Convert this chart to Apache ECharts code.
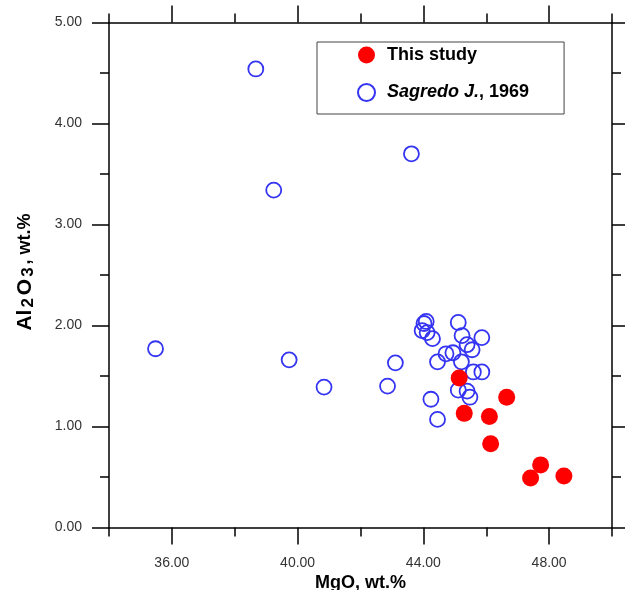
<!DOCTYPE html>
<html>
<head>
<meta charset="utf-8">
<script src="https://cdn.jsdelivr.net/npm/echarts@6/dist/echarts.min.js"></script>
<style>
  html, body { margin: 0; padding: 0; background: #fff; }
  #chart { width: 625px; height: 590px; }
</style>
</head>
<body>
<div id="chart"></div>
<script>
// MgO / Al2O3 (wt.%) of the analysed samples
const mgoThisStudy   = [45.14, 46.65, 45.30, 46.10, 46.14, 47.73, 47.41, 48.47];
const al2o3ThisStudy = [1.48, 1.29, 1.13, 1.10, 0.83, 0.62, 0.49, 0.51];

// Published data (Sagredo, 1969)
const mgoSagredo = [35.48, 38.67, 39.24, 39.73, 40.84, 42.86, 43.11, 43.62,
                    44.09, 44.02, 43.96, 44.12, 44.29, 45.11, 45.23, 45.86,
                    45.39, 45.55, 44.45, 44.72, 44.94, 45.21, 45.59, 45.86,
                    45.11, 45.39, 45.48, 44.24, 44.45];
const al2o3Sagredo = [1.77, 4.54, 3.34, 1.66, 1.39, 1.40, 1.63, 3.70,
                      2.04, 2.02, 1.95, 1.93, 1.87, 2.03, 1.90, 1.88,
                      1.81, 1.76, 1.64, 1.72, 1.73, 1.64, 1.54, 1.54,
                      1.36, 1.35, 1.29, 1.27, 1.07];

// Axis tick values
const xMajorTicks = [36, 40, 44, 48];
const xRange = [34, 50];
const yRange = [0, 5];

const seriesNames = ['This study', 'Sagredo J., 1969'];

const FONT = '"Liberation Sans", Arial, sans-serif';
const BLUE = '#3434f2';
const RED = '#ff0000';
const LINE = { color: '#000', width: 1.5 };

const zip = (xs, ys) => xs.map((x, i) => [x, ys[i]]);

// Axis with the long (major) ticks and, for the bottom axis, the labels
function xMajor(position, labels) {
  return {
    type: 'value', position, min: xRange[0], max: xRange[1], interval: 2,
    axisLine: { show: true, onZero: false, lineStyle: LINE },
    axisTick: { show: true, inside: false, length: 17, customValues: xMajorTicks, lineStyle: LINE },
    axisLabel: labels ? {
      show: true, customValues: xMajorTicks, margin: 29,
      formatter: v => v.toFixed(2), fontFamily: FONT, fontSize: 14, color: '#333'
    } : { show: false },
    splitLine: { show: false }
  };
}
// Axis that only carries the short ticks every 2 wt.%
function xMinor(position) {
  return {
    type: 'value', position, min: xRange[0], max: xRange[1], interval: 2,
    axisLine: { show: false, onZero: false },
    axisTick: { show: true, inside: false, length: 9, lineStyle: LINE },
    axisLabel: { show: false },
    splitLine: { show: false }
  };
}
function yAxisDef(position, labels) {
  return {
    type: 'value', position, min: yRange[0], max: yRange[1], interval: 1,
    axisLine: { show: true, onZero: false, lineStyle: LINE },
    axisTick: { show: true, inside: false, length: 17, lineStyle: LINE },
    minorTick: { show: true, splitNumber: 2, length: 9, lineStyle: LINE },
    axisLabel: labels ? {
      show: true, margin: 27, formatter: v => v.toFixed(2),
      fontFamily: FONT, fontSize: 14, color: '#333'
    } : { show: false },
    splitLine: { show: false }
  };
}

const xBottom = xMajor('bottom', true);
xBottom.name = 'MgO, wt.%';
xBottom.nameLocation = 'middle';
xBottom.nameGap = 47;
xBottom.nameMoveOverlap = false;
xBottom.nameTextStyle = { fontFamily: FONT, fontSize: 18, fontWeight: 'bold', color: '#000' };

const yLeft = yAxisDef('left', true);
yLeft.name = '{m|Al}{s|2}{m|O}{s|3}{t|, wt.%}';
yLeft.nameLocation = 'middle';
yLeft.nameRotate = 90;
yLeft.nameGap = 72;
yLeft.nameTextStyle = {
  padding: [0, 0, 0, 6],
  rich: {
    m: { fontFamily: FONT, fontSize: 21, fontWeight: 'bold', color: '#000', lineHeight: 24, verticalAlign: 'middle' },
    s: { fontFamily: FONT, fontSize: 17, fontWeight: 'bold', color: '#000', lineHeight: 24, verticalAlign: 'bottom', padding: [0, 3, 0, 2] },
    t: { fontFamily: FONT, fontSize: 18, fontWeight: 'bold', color: '#000', lineHeight: 24, verticalAlign: 'middle' }
  }
};

const chart = echarts.init(document.getElementById('chart'), null, { renderer: 'canvas' });
chart.setOption({
  animation: false,
  backgroundColor: '#fff',
  grid: { left: 109, top: 22.5, width: 503, height: 505, containLabel: false, outerBoundsMode: 'none' },
  xAxis: [xBottom, xMinor('bottom'), xMajor('top', false), xMinor('top')],
  yAxis: [yLeft, yAxisDef('right', false)],
  legend: {
    left: 317, top: 42,
    orient: 'vertical',
    padding: [4, 35, 12, 40],
    itemWidth: 17, itemHeight: 17, itemGap: 19,
    borderColor: '#444', borderWidth: 1,
    selectedMode: false,
    data: [
      { name: seriesNames[0], icon: 'circle', itemStyle: { color: RED, borderWidth: 0, opacity: 1 } },
      { name: seriesNames[1], icon: 'circle', itemStyle: { color: '#fff', borderColor: BLUE, borderWidth: 2, opacity: 1 } }
    ],
    formatter: name => name === seriesNames[1]
      ? '{i|Sagredo J.}{n|, 1969}'
      : '{n|' + name + '}',
    textStyle: {
      padding: [0, 0, 0, 7],
      rich: {
        n: { fontFamily: FONT, fontSize: 18, fontWeight: 'bold', color: '#000' },
        i: { fontFamily: FONT, fontSize: 18, fontWeight: 'bold', fontStyle: 'italic', color: '#000' }
      }
    }
  },
  series: [
    {
      name: seriesNames[1], type: 'scatter', xAxisIndex: 0, yAxisIndex: 0,
      data: zip(mgoSagredo, al2o3Sagredo),
      symbol: 'circle', symbolSize: 15, silent: true, z: 2,
      itemStyle: { color: 'rgba(0,0,0,0)', borderColor: BLUE, borderWidth: 1.8, opacity: 1 }
    },
    {
      name: seriesNames[0], type: 'scatter', xAxisIndex: 0, yAxisIndex: 0,
      data: zip(mgoThisStudy, al2o3ThisStudy),
      symbol: 'circle', symbolSize: 17, silent: true, z: 3,
      itemStyle: { color: RED, opacity: 1 }
    }
  ]
});
</script>
</body>
</html>
